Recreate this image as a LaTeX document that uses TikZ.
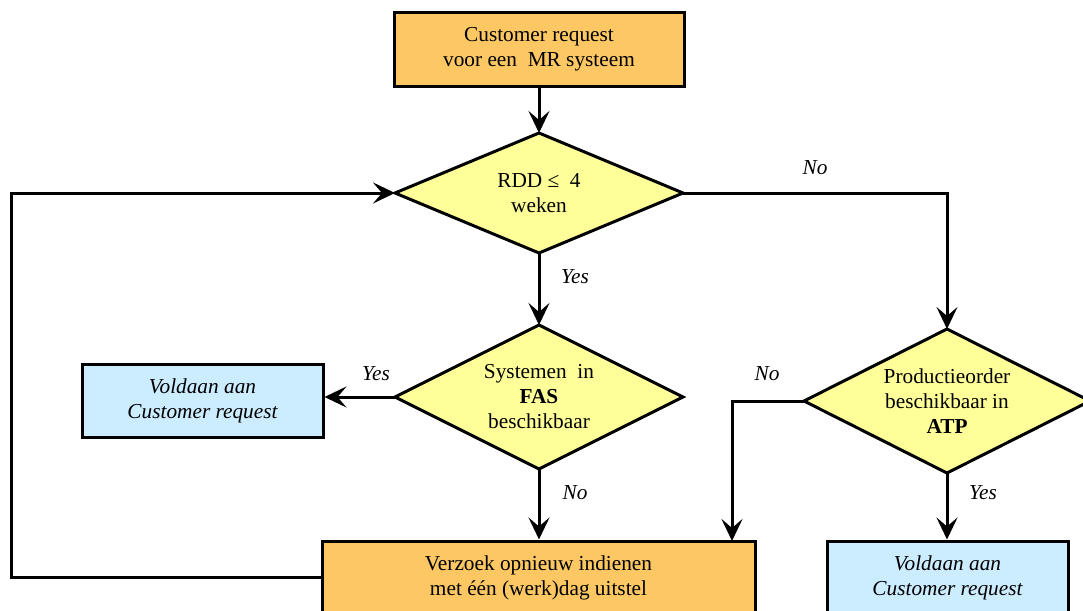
\documentclass[tikz,border=0pt]{standalone}
\usepackage{fontspec}
\setmainfont{Liberation Serif}
\usetikzlibrary{shapes.geometric,arrows.meta}
\definecolor{boxorange}{RGB}{253,200,99}
\definecolor{dyellow}{RGB}{255,255,153}
\definecolor{lblue}{RGB}{204,236,255}
\begin{document}
\begin{tikzpicture}[x=1pt,y=-1pt,
  font=\fontsize{21.3}{25}\selectfont,
  rbox/.style={draw=black, line width=3pt, minimum height=73pt, inner sep=0pt, align=center},
  obox/.style={rbox, fill=boxorange},
  bbox/.style={rbox, fill=lblue, font=\fontsize{21.3}{25}\selectfont\itshape},
  dia/.style={diamond, draw=black, line width=3pt, fill=dyellow, inner sep=0pt, outer sep=0pt, minimum width=288pt},
  dtext/.style={align=center, inner sep=0pt},
  lbl/.style={inner sep=0pt, font=\fontsize{21.3}{25}\selectfont\itshape},
  arr/.style={-{Stealth[length=22pt,width=21pt,inset=9pt]}, line width=3pt}
]
\useasboundingbox (0,0) rectangle (1083,610);

% boxes
\node[obox, minimum width=290pt] (req) at (539,49.5) {Customer request\\voor een\ \ MR systeem};
\node[bbox, minimum width=241pt] (ok1) at (202.5,400.5) {Voldaan aan\\Customer request};
\node[obox, minimum width=433pt] (redo) at (538.5,577.5) {Verzoek opnieuw indienen\\met één (werk)dag uitstel};
\node[bbox, minimum width=241pt] (ok2) at (947.5,577.5) {Voldaan aan\\Customer request};

% diamonds
\node[dia, minimum height=120pt] (d1) at (539,193) {};
\node[dtext] (d1t) at (d1) {RDD ≤\ \ 4\\weken};
\node[dia, minimum height=144pt] (d2) at (539,397) {};
\node[dtext] (d2t) at (d2) {Systemen\ \ in\\\textbf{FAS}\\beschikbaar};
\node[dia, minimum height=144pt, minimum width=286pt] (d3) at (947,401) {};
\node[dtext] (d3t) at (d3) {Productieorder\\beschikbaar in\\\textbf{ATP}};

% helper coordinates
\coordinate (rin) at (732,541);
\coordinate (lc) at (11,577.5);

% connectors
\draw[arr] (req) -- (d1);
\draw[arr] (d1.east) -| (d3.north);
\draw[arr] (d1) -- (d2);
\draw[arr] (d2.west) -- (d2.west -| ok1.east);
\draw[arr] (d2.south) -- (d2.south |- redo.north);
\draw[arr] (d3.west) -| (rin);
\draw[arr] (d3.south) -- (d3.south |- ok2.north);
\draw[arr] (redo.west) -- (lc) |- (d1.west);

% labels
\node[lbl] (l1) at (815,168) {No};
\node[lbl] (l2) at (575,277) {Yes};
\node[lbl] (l3) at (376,374) {Yes};
\node[lbl] (l4) at (575,493) {No};
\node[lbl] (l5) at (767,374) {No};
\node[lbl] (l6) at (983,493) {Yes};
\end{tikzpicture}
\end{document}
